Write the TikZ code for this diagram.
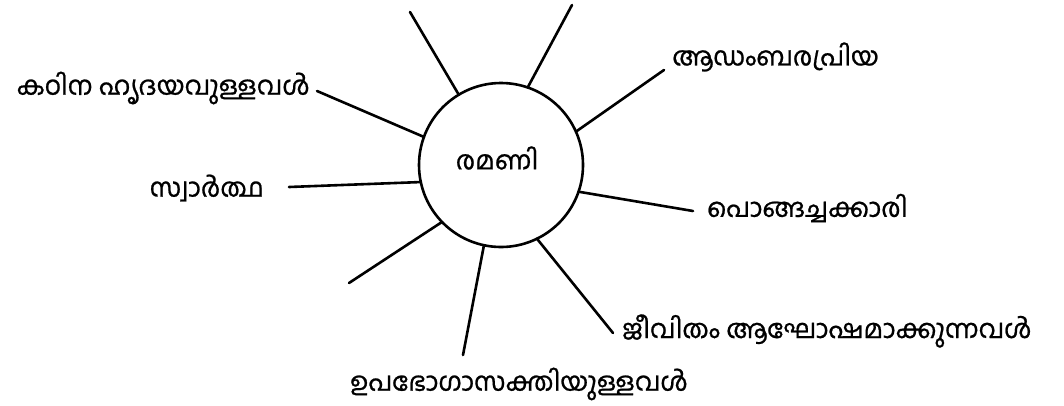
\documentclass[tikz,border=0pt]{standalone}
\usepackage{fontspec}
\newfontfamily\mal[Script=Malayalam,FakeBold=0.8]{Hind Kochi}
\usetikzlibrary{calc}
\begin{document}
\begin{tikzpicture}[x=1pt,y=-1pt,
  lbl/.style={inner sep=0pt,font=\mal\fontsize{26}{30}\selectfont},
  ray/.style={line width=2.6pt,line cap=round}]
\useasboundingbox[fill=white] (0,0) rectangle (1064,405);
\node[circle,draw,line width=2.6pt,minimum size=164pt,inner sep=0pt,outer sep=0pt] (c) at (501,165) {};
\node[lbl] (cl) at (497,158) {രമണി};
\node[lbl,anchor=east] (l4) at (310,88) {കഠിന ഹൃദയവുള്ളവൾ};
\node[lbl,anchor=west] (l3) at (672,57) {ആഡംബരപ്രിയ};
\node[lbl,anchor=east] (l5) at (264,188) {സ്വാർത്ഥ};
\node[lbl,anchor=west] (l6) at (707,208) {പൊങ്ങച്ചക്കാരി};
\node[lbl,anchor=west] (l9) at (622,331) {ജീവിതം ആഘോഷമാക്കുന്നവൾ};
\node[lbl] (l8) at (519,384) {ഉപഭോഗാസക്തിയുള്ളവൾ};
\coordinate (e1) at (410,12);
\coordinate (e2) at (572,5);
\coordinate (e7) at (349,283);
\coordinate (e8) at (463,355);
\draw[ray] (c.121) -- (e1);
\draw[ray] (c.71) -- (e2);
\draw[ray] (c.24) -- ($(l3.west)+(-8,13)$);
\draw[ray] (c.160) -- ($(l4.east)+(7,3)$);
\draw[ray] (c.192) -- ($(l5.east)+(25,-1)$);
\draw[ray] (c.-19) -- ($(l6.west)+(-14,3)$);
\draw[ray] (c.224) -- (e7);
\draw[ray] (c.258) -- (e8);
\draw[ray] (c.296) -- ($(l9.west)+(-9,2)$);
\end{tikzpicture}
\end{document}
